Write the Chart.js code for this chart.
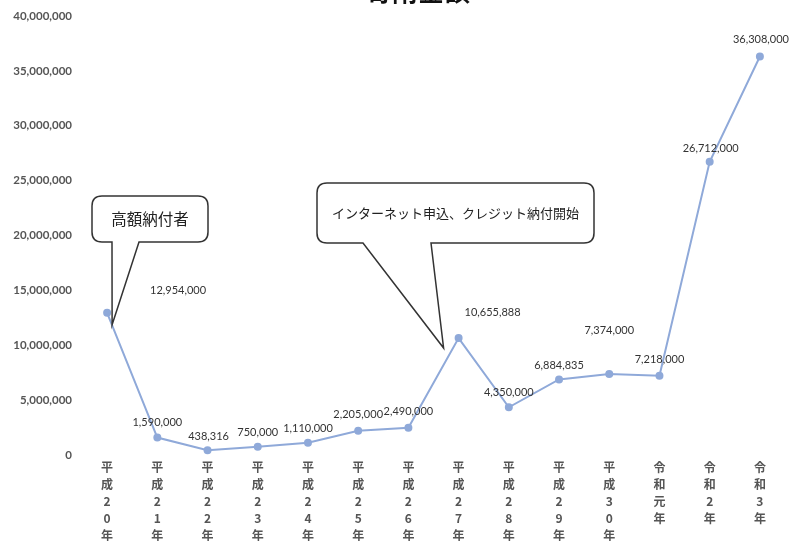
<!DOCTYPE html>
<html>
<head>
<meta charset="utf-8">
<script src="https://cdn.jsdelivr.net/npm/chart.js@4"></script>
<style>
  html, body { margin: 0; padding: 0; background: #fff; overflow: hidden; }
  #wrap { position: absolute; left: 0; top: -20px; width: 791px; height: 570px; }
</style>
</head>
<body>
<div id="wrap"><canvas id="chart-kifu"></canvas></div>
<script>
  var categories = ['平成20年', '平成21年', '平成22年', '平成23年', '平成24年', '平成25年', '平成26年',
    '平成27年', '平成28年', '平成29年', '平成30年', '令和元年', '令和2年', '令和3年'];
  var amounts = [12954000, 1590000, 438316, 750000, 1110000, 2205000, 2490000,
    10655888, 4350000, 6884835, 7374000, 7218000, 26712000, 36308000];
  var yTicks = [0, 5000000, 10000000, 15000000, 20000000, 25000000, 30000000, 35000000, 40000000];
  var chartTitle = '寄附金額';
  var notes = ['高額納付者', 'インターネット申込、クレジット納付開始'];

  var jpFont = '"Noto Sans CJK JP", "Noto Sans", sans-serif';
  var numFont = 'Lato, "Open Sans", sans-serif';
  var lineColor = '#8fa9d9';

  // label offsets (px) from each point, hand placed like the original
  var labelShift = [[71, -22], [0, -15], [1, -14], [0, -14], [0, -14], [0, -16], [0, -16],
    [34, -26], [0, -15], [0, -14], [0, -44], [0, -16], [1, -13], [1, -17]];

  function fmt(v) { return v.toLocaleString('en-US'); }

  var valueLabels = {
    id: 'valueLabels',
    afterDatasetsDraw: function (chart) {
      var ctx = chart.ctx;
      var meta = chart.getDatasetMeta(0);
      ctx.save();
      ctx.font = '11px ' + numFont;
      ctx.fillStyle = '#333';
      ctx.textAlign = 'center';
      ctx.textBaseline = 'middle';
      meta.data.forEach(function (pt, i) {
        ctx.fillText(fmt(amounts[i]), pt.x + labelShift[i][0], pt.y + labelShift[i][1]);
      });
      ctx.restore();
    }
  };

  function bubble(ctx, box, baseL, baseR, tip, text, size) {
    var x0 = box[0], y0 = box[1], x1 = box[2], y1 = box[3];
    var r = 10;
    ctx.beginPath();
    ctx.moveTo(x0 + r, y0);
    ctx.lineTo(x1 - r, y0);
    ctx.quadraticCurveTo(x1, y0, x1, y0 + r);
    ctx.lineTo(x1, y1 - r);
    ctx.quadraticCurveTo(x1, y1, x1 - r, y1);
    ctx.lineTo(baseR, y1);
    ctx.lineTo(tip[0], tip[1]);
    ctx.lineTo(baseL, y1);
    ctx.lineTo(x0 + r, y1);
    ctx.quadraticCurveTo(x0, y1, x0, y1 - r);
    ctx.lineTo(x0, y0 + r);
    ctx.quadraticCurveTo(x0, y0, x0 + r, y0);
    ctx.closePath();
    ctx.fillStyle = '#fff';
    ctx.fill();
    ctx.strokeStyle = '#333';
    ctx.lineWidth = 1.5;
    ctx.stroke();
    ctx.fillStyle = '#222';
    ctx.font = size + 'px ' + jpFont;
    ctx.textAlign = 'center';
    ctx.textBaseline = 'middle';
    ctx.fillText(text, (x0 + x1) / 2, (y0 + y1) / 2);
  }

  var callouts = {
    id: 'callouts',
    afterDatasetsDraw: function (chart) {
      var ctx = chart.ctx;
      var pts = chart.getDatasetMeta(0).data;
      ctx.save();
      bubble(ctx, [92, 216, 208, 262], 112, 139, [pts[0].x + 5, pts[0].y + 12], notes[0], 15.5);
      bubble(ctx, [317, 203, 594, 263], 363, 431, [pts[7].x - 15, pts[7].y + 10], notes[1], 13);
      // title, mostly cut off above the page
      ctx.font = 'bold 26px ' + jpFont;
      ctx.fillStyle = '#111';
      ctx.textAlign = 'center';
      ctx.textBaseline = 'bottom';
      ctx.fillText(chartTitle, 418, 24);
      ctx.restore();
    }
  };

  new Chart(document.getElementById('chart-kifu'), {
    type: 'line',
    data: {
      labels: categories.map(function (c) { return Array.from(c); }),
      datasets: [{
        data: amounts,
        borderColor: lineColor,
        backgroundColor: lineColor,
        borderWidth: 2,
        pointRadius: 3,
        pointHoverRadius: 3,
        tension: 0
      }]
    },
    options: {
      responsive: true,
      maintainAspectRatio: false,
      animation: false,
      layout: { padding: { top: 36, right: 6, left: 0, bottom: 0 } },
      plugins: {
        legend: { display: false },
        tooltip: { enabled: false }
      },
      scales: {
        x: {
          offset: true,
          grid: { display: false, drawTicks: false },
          border: { display: false },
          ticks: {
            padding: 4,
            maxRotation: 0,
            autoSkip: false,
            color: '#555',
            font: { family: jpFont, size: 12, weight: 'bold', lineHeight: 1.42 }
          },
          afterFit: function (s) { s.height = 95; }
        },
        y: {
          min: 0,
          max: 40000000,
          grid: { display: false, drawTicks: false },
          border: { display: false },
          afterBuildTicks: function (s) { s.ticks = yTicks.map(function (v) { return { value: v }; }); },
          ticks: {
            padding: 10,
            color: '#555',
            font: { family: numFont, size: 11.5, weight: 'bold' },
            callback: function (v) { return fmt(v); }
          },
          afterFit: function (s) { s.width = 82; }
        }
      }
    },
    plugins: [valueLabels, callouts]
  });
</script>
</body>
</html>
